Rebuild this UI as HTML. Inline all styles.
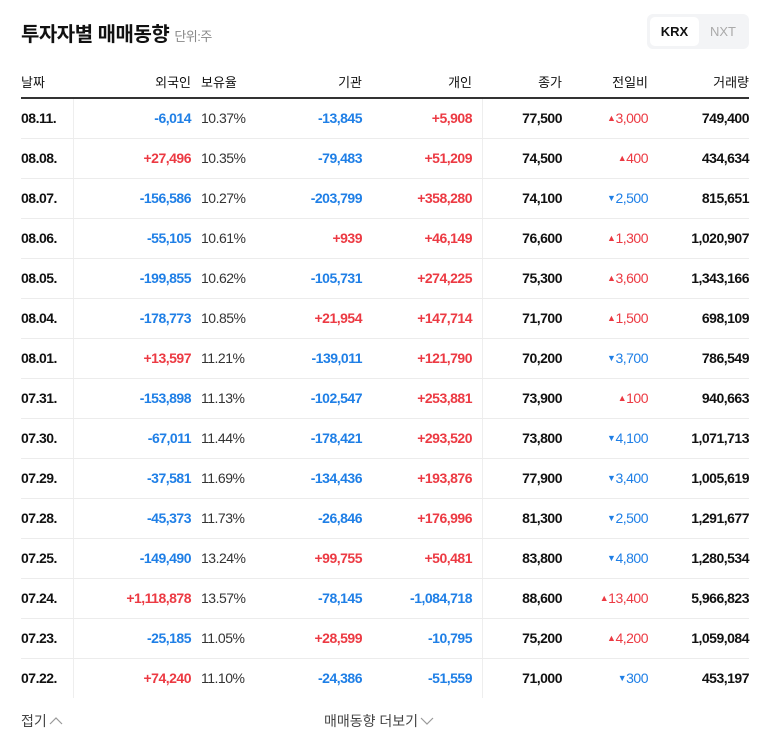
<!DOCTYPE html>
<html><head><meta charset="utf-8"><style>
body{margin:0;width:768px;height:749px;background:#fff;font-family:"Liberation Sans","Noto Sans CJK KR",sans-serif;position:relative;overflow:hidden;color:#111}
.a{position:absolute;white-space:nowrap}
.r{text-align:right}
.c{font-size:14px;font-weight:bold;letter-spacing:-0.5px}
.blue{color:#1f7fe6}.red{color:#ec3a43}
</style></head><body>
<div class="a" style="left:21px;top:18px;font-size:20px;font-weight:bold;letter-spacing:-0.5px">투자자별 매매동향 <span style="font-size:13px;font-weight:normal;color:#888">단위:주</span></div>
<div class="a" style="left:647px;top:14px;width:102px;height:35px;background:#f3f4f6;border-radius:6px">
 <div class="a" style="left:3px;top:3px;width:49px;height:29px;background:#fff;border-radius:5px;font-size:13px;font-weight:bold;line-height:29px;text-align:center">KRX</div>
 <div class="a" style="left:52px;top:3px;width:48px;height:29px;font-size:13px;color:#aaa;line-height:29px;text-align:center">NXT</div>
</div>
<div id="tbl"></div>
<div class="a" style="left:21px;top:711px;font-size:14px;color:#444">접기<svg width="14" height="10" style="margin-left:2px" viewBox="0 0 14 10"><path d="M1 8 L7 2 L13 8" fill="none" stroke="#999" stroke-width="1.2"/></svg></div>
<div class="a" style="left:324px;top:711px;font-size:14px;color:#444">매매동향 더보기<svg width="14" height="10" style="margin-left:2px" viewBox="0 0 14 10"><path d="M1 2 L7 8 L13 2" fill="none" stroke="#999" stroke-width="1.2"/></svg></div>
<script>
const dates=["08.11.","08.08.","08.07.","08.06.","08.05.","08.04.","08.01.","07.31.","07.30.","07.29.","07.28.","07.25.","07.24.","07.23.","07.22."];
const foreign=[-6014,27496,-156586,-55105,-199855,-178773,13597,-153898,-67011,-37581,-45373,-149490,1118878,-25185,74240];
const holding=["10.37%","10.35%","10.27%","10.61%","10.62%","10.85%","11.21%","11.13%","11.44%","11.69%","11.73%","13.24%","13.57%","11.05%","11.10%"];
const inst=[-13845,-79483,-203799,939,-105731,21954,-139011,-102547,-178421,-134436,-26846,99755,-78145,28599,-24386];
const indiv=[5908,51209,358280,46149,274225,147714,121790,253881,293520,193876,176996,50481,-1084718,-10795,-51559];
const close=[77500,74500,74100,76600,75300,71700,70200,73900,73800,77900,81300,83800,88600,75200,71000];
const change=[3000,400,-2500,1300,3600,1500,-3700,100,-4100,-3400,-2500,-4800,13400,4200,-300];
const volume=[749400,434634,815651,1020907,1343166,698109,786549,940663,1071713,1005619,1291677,1280534,5966823,1059084,453197];
const headers=[["날짜",21,"l"],["외국인",191,"r"],["보유율",201,"l"],["기관",362,"r"],["개인",472,"r"],["종가",562,"r"],["전일비",648,"r"],["거래량",749,"r"]];
const T=document.getElementById('tbl');
const f=n=>n.toLocaleString('en-US');
const sg=n=>(n>0?"+":"")+f(n);
function add(txt,x,y,al,cls,name){
 const d=document.createElement('div');
 d.className='a '+(cls||'');
 
 
 d.textContent=txt;
 if(al==='r'){d.style.right=(768-x)+'px';d.style.textAlign='right'}else d.style.left=x+'px';
 d.style.top=y+'px';T.appendChild(d);return d;}
headers.forEach(h=>{const d=add(h[0],h[1],72,h[2],'','column-header');d.style.fontSize='13px';});
function line(x,y,w,h,c,name){const d=document.createElement('div');d.className='a';
 
 
 d.style.cssText+=`left:${x}px;top:${y}px;width:${w}px;height:${h}px;background:${c}`;T.appendChild(d);}
line(21,97,728,2,'#333','header-rule');
line(73,99,1,599,'#eee','date-divider');
line(482,99,1,599,'#eee','price-divider');
const col=n=>n>0?'red':n<0?'blue':'';
dates.forEach((d,i)=>{
 const y=110+i*40;
 if(i>0) line(21,98+i*40,728,1,'#ececec','row-divider');
 add(d,21,y,'l','c','date-cell');
 add(sg(foreign[i]),191,y,'r','c '+col(foreign[i]),'foreign-cell');
 const h=add(holding[i],201,y,'l','','holding-cell');h.style.fontSize='14px';h.style.color='#333';h.style.letterSpacing='-0.5px';
 add(sg(inst[i]),362,y,'r','c '+col(inst[i]),'institution-cell');
 add(sg(indiv[i]),472,y,'r','c '+col(indiv[i]),'individual-cell');
 add(f(close[i]),562,y,'r','c','close-cell');
 const c=add('',648,y,'r',col(change[i]),'change-cell');c.style.fontSize='14px';c.style.letterSpacing='-0.5px';
 c.innerHTML='<span style="font-size:9px;vertical-align:2px">'+(change[i]>0?'▲':'▼')+'</span>'+f(Math.abs(change[i]));
 add(f(volume[i]),749,y,'r','c','volume-cell');
});
</script>
</body></html>
